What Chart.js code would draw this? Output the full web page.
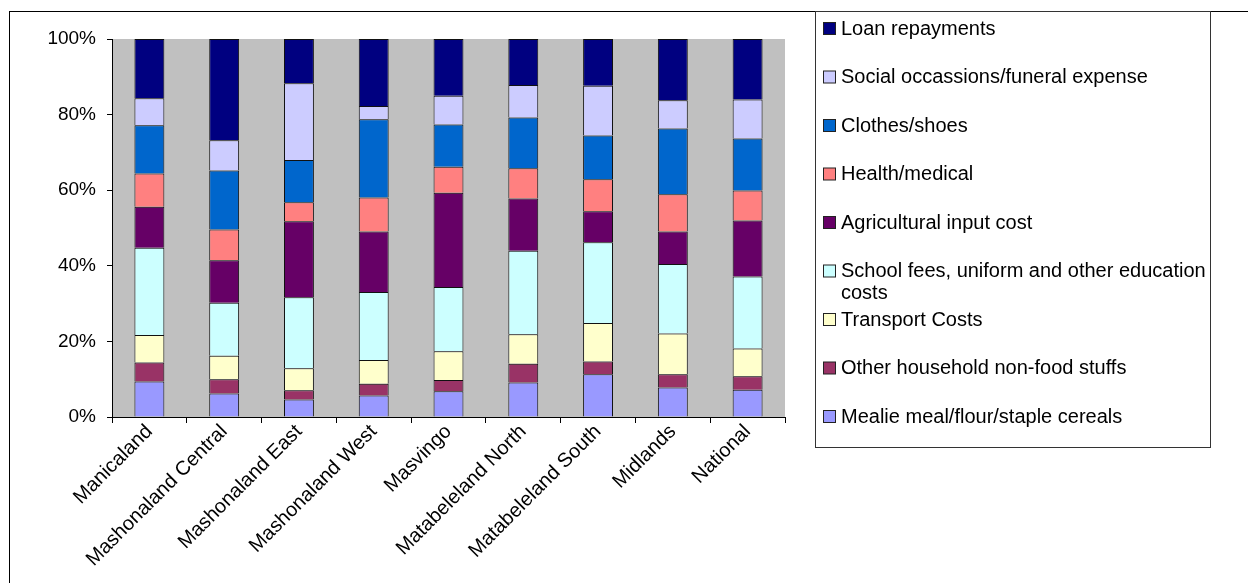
<!DOCTYPE html>
<html>
<head>
<meta charset="utf-8">
<title>Gastos por provincia</title>
<script src="https://cdn.jsdelivr.net/npm/chart.js@4/dist/chart.umd.min.js"></script>
<style>
    body { margin: 0; background: #fff; }
    canvas { display: block; }
</style>
</head>
<body>
<canvas id="chartGastos" width="1248" height="583"></canvas>
<script>
// Datos (porcentajes por provincia)
var provincias = ['Manicaland', 'Mashonaland Central', 'Mashonaland East', 'Mashonaland West',
    'Masvingo', 'Matabeleland North', 'Matabeleland South', 'Midlands', 'National'];

var mealieMeal = [9.4, 6.2, 4.6, 5.7, 6.8, 9.1, 11.3, 7.8, 7.2];
var otrosNoAlimentos = [5.0, 3.8, 2.5, 3.1, 3.0, 5.0, 3.4, 3.5, 3.6];
var transporte = [7.3, 6.2, 5.8, 6.3, 7.6, 7.8, 10.2, 10.8, 7.3];
var educacion = [23.1, 14.0, 18.8, 18.0, 17.0, 22.1, 21.3, 18.4, 19.1];
var agricola = [10.8, 11.3, 20.1, 16.0, 24.9, 13.8, 8.2, 8.6, 14.8];
var salud = [8.8, 8.1, 5.0, 9.0, 6.9, 8.0, 8.5, 9.8, 7.9];
var ropa = [12.8, 15.6, 11.2, 20.7, 11.2, 13.4, 11.6, 17.4, 13.8];
var social = [7.1, 8.0, 20.3, 3.5, 7.6, 8.6, 13.1, 7.5, 10.3];
var prestamos = [15.7, 26.8, 11.7, 17.7, 15.0, 12.2, 12.4, 16.2, 16.0];

var ticksY = [0, 20, 40, 60, 80, 100];

var familia = 'Arial, "Liberation Sans", sans-serif';
var fuenteY = { family: familia, size: 19 };
var fuenteX = { family: familia, size: 20 };
var fuenteLeyenda = { family: familia, size: 20 };

function serie(nombre, valores, color) {
    return {
        label: nombre,
        data: valores,
        backgroundColor: color,
        borderColor: '#111',
        borderWidth: 1,
        barPercentage: 0.4,
        categoryPercentage: 1.0
    };
}

// Fondo gris del area del grafico
const fondoGris = {
    id: 'fondoGris',
    beforeDraw(chart) {
        const a = chart.chartArea;
        const ctx = chart.ctx;
        ctx.save();
        ctx.fillStyle = '#C0C0C0';
        ctx.fillRect(a.left, a.top, a.right - a.left, a.bottom - a.top);
        ctx.restore();
    }
};

// Marco exterior y leyenda en caja (orden inverso a la pila)
const leyendaCaja = {
    id: 'leyendaCaja',
    afterDraw(chart) {
        const ctx = chart.ctx;
        ctx.save();
        ctx.strokeStyle = '#000';
        ctx.lineWidth = 1;
        ctx.strokeRect(9.5, 11.5, 1400, 800);

        ctx.strokeStyle = '#333';
        ctx.strokeRect(815.5, 11.5, 395, 436);

        ctx.font = fuenteLeyenda.size + 'px ' + fuenteLeyenda.family;
        ctx.textBaseline = 'middle';
        var sets = chart.data.datasets.slice().reverse();
        sets.forEach(function(ds, i) {
            var y = 28 + 48.5 * i;
            ctx.fillStyle = ds.backgroundColor;
            ctx.fillRect(823.5, y - 5.5, 12, 12);
            ctx.strokeStyle = '#222';
            ctx.strokeRect(823.5, y - 5.5, 12, 12);

            // partir el texto si no cabe en la caja
            var palabras = ds.label.split(' ');
            var lineas = [];
            var actual = '';
            palabras.forEach(function(p) {
                var prueba = actual ? actual + ' ' + p : p;
                if (ctx.measureText(prueba).width > 368 && actual) {
                    lineas.push(actual);
                    actual = p;
                } else {
                    actual = prueba;
                }
            });
            lineas.push(actual);
            ctx.fillStyle = '#000';
            lineas.forEach(function(l, j) {
                ctx.fillText(l, 841, y + 1 + j * 22);
            });
        });
        ctx.restore();
    }
};

new Chart(document.getElementById('chartGastos'), {
    type: 'bar',
    data: {
        labels: provincias,
        datasets: [
            serie('Mealie meal/flour/staple cereals', mealieMeal, '#9999FF'),
            serie('Other household non-food stuffs', otrosNoAlimentos, '#993366'),
            serie('Transport Costs', transporte, '#FFFFCC'),
            serie('School fees, uniform and other education costs', educacion, '#CCFFFF'),
            serie('Agricultural input cost', agricola, '#660066'),
            serie('Health/medical', salud, '#FF8080'),
            serie('Clothes/shoes', ropa, '#0066CC'),
            serie('Social occassions/funeral expense', social, '#CCCCFF'),
            serie('Loan repayments', prestamos, '#000080')
        ]
    },
    options: {
        responsive: false,
        animation: false,
        devicePixelRatio: 1,
        layout: {
            padding: { left: 0, right: 463, top: 39, bottom: 0 }
        },
        plugins: {
            legend: { display: false },
            tooltip: { enabled: false }
        },
        scales: {
            x: {
                stacked: true,
                afterFit: function(s) { s.height = 166; },
                grid: {
                    offset: true,
                    drawOnChartArea: false,
                    drawTicks: true,
                    tickLength: 6,
                    color: '#000'
                },
                border: { color: '#000', width: 1 },
                ticks: {
                    autoSkip: false,
                    minRotation: 45,
                    maxRotation: 45,
                    padding: -3,
                    color: '#000',
                    font: fuenteX
                }
            },
            y: {
                stacked: true,
                min: 0,
                max: 100,
                afterFit: function(s) { s.width = 112; },
                afterBuildTicks: function(s) {
                    s.ticks = ticksY.map(function(v) { return { value: v }; });
                },
                grid: {
                    drawOnChartArea: false,
                    drawTicks: true,
                    tickLength: 5,
                    color: '#000'
                },
                border: { color: '#000', width: 1 },
                ticks: {
                    padding: 11,
                    color: '#000',
                    font: fuenteY,
                    callback: function(v) { return v + '%'; }
                }
            }
        }
    },
    plugins: [fondoGris, leyendaCaja]
});
</script>
</body>
</html>
